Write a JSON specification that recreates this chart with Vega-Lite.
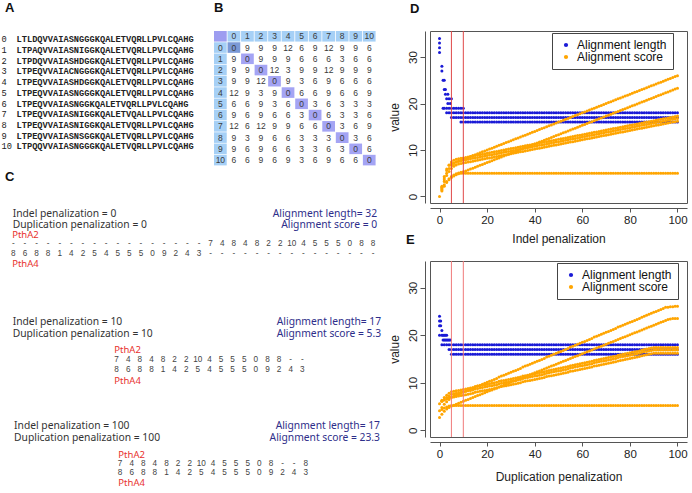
{
"$schema":"https://vega.github.io/schema/vega-lite/v6.json",
"padding":{"top":2,"left":0,"right":0,"bottom":0},
"background":"white",
"config":{"font":"Liberation Sans","view":{"stroke":null},"title":{"anchor":"start","fontSize":13,"fontWeight":"bold","font":"Liberation Sans","color":"#111"},"axis":{"grid":false,"labelFont":"Liberation Sans","titleFont":"Liberation Sans","labelFontSize":11.5,"titleFontSize":12,"titleFontWeight":"normal","labelColor":"#222","titleColor":"#222","domainColor":"#555","tickColor":"#555"}},
"datasets":{
"seqA":[{"i":0,"p":"idx","t":"0"},{"i":0,"p":"seq","t":"LTLDQVVAIASNGGGKQALETVQRLLPVLCQAHG"},{"i":1,"p":"idx","t":"1"},{"i":1,"p":"seq","t":"LTPAQVVAIASNIGGKQALETVQRLLPVLCQAHG"},{"i":2,"p":"idx","t":"2"},{"i":2,"p":"seq","t":"LTPDQVVAIASHDGGKQALETVQRLLPVLCQAHG"},{"i":3,"p":"idx","t":"3"},{"i":3,"p":"seq","t":"LTPEQVVAIACNGGGKQALETVQRLLPVLCQAHG"},{"i":4,"p":"idx","t":"4"},{"i":4,"p":"seq","t":"LTPEQVVAIASHDGGKQALETVQRLLPVLCQAHG"},{"i":5,"p":"idx","t":"5"},{"i":5,"p":"seq","t":"LTPEQVVAIASNGGGKQALETVQRLLPVLCQAHG"},{"i":6,"p":"idx","t":"6"},{"i":6,"p":"seq","t":"LTPEQVVAIASNGGKQALETVQRLLPVLCQAHG"},{"i":7,"p":"idx","t":"7"},{"i":7,"p":"seq","t":"LTPEQVVAIASNIGGKQALETVQALLPVLCQAHG"},{"i":8,"p":"idx","t":"8"},{"i":8,"p":"seq","t":"LTPEQVVAIASNIGGKQALETVQRLLPVLCQAHG"},{"i":9,"p":"idx","t":"9"},{"i":9,"p":"seq","t":"LTPEQVVAIASNSGGKQALETVQRLLPVLCQAHG"},{"i":10,"p":"idx","t":"10"},{"i":10,"p":"seq","t":"LTPQQVVAIASNGGGKQALETVQRLLPVLCQAHG"}],
"matB":[
{"r":-1,"c":-1,"k":"x","t":""},{"r":-1,"c":0,"k":"h","t":"0"},{"r":-1,"c":1,"k":"h","t":"1"},{"r":-1,"c":2,"k":"h","t":"2"},{"r":-1,"c":3,"k":"h","t":"3"},{"r":-1,"c":4,"k":"h","t":"4"},{"r":-1,"c":5,"k":"h","t":"5"},{"r":-1,"c":6,"k":"h","t":"6"},{"r":-1,"c":7,"k":"h","t":"7"},{"r":-1,"c":8,"k":"h","t":"8"},{"r":-1,"c":9,"k":"h","t":"9"},{"r":-1,"c":10,"k":"h","t":"10"},
{"r":0,"c":-1,"k":"h","t":"0"},{"r":0,"c":0,"k":"s","t":"0"},{"r":0,"c":1,"k":"v","t":"9"},{"r":0,"c":2,"k":"v","t":"9"},{"r":0,"c":3,"k":"v","t":"9"},{"r":0,"c":4,"k":"v","t":"12"},{"r":0,"c":5,"k":"v","t":"6"},{"r":0,"c":6,"k":"v","t":"9"},{"r":0,"c":7,"k":"v","t":"12"},{"r":0,"c":8,"k":"v","t":"9"},{"r":0,"c":9,"k":"v","t":"9"},{"r":0,"c":10,"k":"v","t":"6"},
{"r":1,"c":-1,"k":"h","t":"1"},{"r":1,"c":0,"k":"v","t":"9"},{"r":1,"c":1,"k":"d","t":"0"},{"r":1,"c":2,"k":"v","t":"9"},{"r":1,"c":3,"k":"v","t":"9"},{"r":1,"c":4,"k":"v","t":"9"},{"r":1,"c":5,"k":"v","t":"6"},{"r":1,"c":6,"k":"v","t":"6"},{"r":1,"c":7,"k":"v","t":"6"},{"r":1,"c":8,"k":"v","t":"3"},{"r":1,"c":9,"k":"v","t":"6"},{"r":1,"c":10,"k":"v","t":"6"},
{"r":2,"c":-1,"k":"h","t":"2"},{"r":2,"c":0,"k":"v","t":"9"},{"r":2,"c":1,"k":"v","t":"9"},{"r":2,"c":2,"k":"d","t":"0"},{"r":2,"c":3,"k":"v","t":"12"},{"r":2,"c":4,"k":"v","t":"3"},{"r":2,"c":5,"k":"v","t":"9"},{"r":2,"c":6,"k":"v","t":"9"},{"r":2,"c":7,"k":"v","t":"12"},{"r":2,"c":8,"k":"v","t":"9"},{"r":2,"c":9,"k":"v","t":"9"},{"r":2,"c":10,"k":"v","t":"9"},
{"r":3,"c":-1,"k":"h","t":"3"},{"r":3,"c":0,"k":"v","t":"9"},{"r":3,"c":1,"k":"v","t":"9"},{"r":3,"c":2,"k":"v","t":"12"},{"r":3,"c":3,"k":"d","t":"0"},{"r":3,"c":4,"k":"v","t":"9"},{"r":3,"c":5,"k":"v","t":"3"},{"r":3,"c":6,"k":"v","t":"6"},{"r":3,"c":7,"k":"v","t":"9"},{"r":3,"c":8,"k":"v","t":"6"},{"r":3,"c":9,"k":"v","t":"6"},{"r":3,"c":10,"k":"v","t":"6"},
{"r":4,"c":-1,"k":"h","t":"4"},{"r":4,"c":0,"k":"v","t":"12"},{"r":4,"c":1,"k":"v","t":"9"},{"r":4,"c":2,"k":"v","t":"3"},{"r":4,"c":3,"k":"v","t":"9"},{"r":4,"c":4,"k":"d","t":"0"},{"r":4,"c":5,"k":"v","t":"6"},{"r":4,"c":6,"k":"v","t":"6"},{"r":4,"c":7,"k":"v","t":"9"},{"r":4,"c":8,"k":"v","t":"6"},{"r":4,"c":9,"k":"v","t":"6"},{"r":4,"c":10,"k":"v","t":"9"},
{"r":5,"c":-1,"k":"h","t":"5"},{"r":5,"c":0,"k":"v","t":"6"},{"r":5,"c":1,"k":"v","t":"6"},{"r":5,"c":2,"k":"v","t":"9"},{"r":5,"c":3,"k":"v","t":"3"},{"r":5,"c":4,"k":"v","t":"6"},{"r":5,"c":5,"k":"d","t":"0"},{"r":5,"c":6,"k":"v","t":"3"},{"r":5,"c":7,"k":"v","t":"6"},{"r":5,"c":8,"k":"v","t":"3"},{"r":5,"c":9,"k":"v","t":"3"},{"r":5,"c":10,"k":"v","t":"3"},
{"r":6,"c":-1,"k":"h","t":"6"},{"r":6,"c":0,"k":"v","t":"9"},{"r":6,"c":1,"k":"v","t":"6"},{"r":6,"c":2,"k":"v","t":"9"},{"r":6,"c":3,"k":"v","t":"6"},{"r":6,"c":4,"k":"v","t":"6"},{"r":6,"c":5,"k":"v","t":"3"},{"r":6,"c":6,"k":"d","t":"0"},{"r":6,"c":7,"k":"v","t":"6"},{"r":6,"c":8,"k":"v","t":"3"},{"r":6,"c":9,"k":"v","t":"3"},{"r":6,"c":10,"k":"v","t":"6"},
{"r":7,"c":-1,"k":"h","t":"7"},{"r":7,"c":0,"k":"v","t":"12"},{"r":7,"c":1,"k":"v","t":"6"},{"r":7,"c":2,"k":"v","t":"12"},{"r":7,"c":3,"k":"v","t":"9"},{"r":7,"c":4,"k":"v","t":"9"},{"r":7,"c":5,"k":"v","t":"6"},{"r":7,"c":6,"k":"v","t":"6"},{"r":7,"c":7,"k":"d","t":"0"},{"r":7,"c":8,"k":"v","t":"3"},{"r":7,"c":9,"k":"v","t":"6"},{"r":7,"c":10,"k":"v","t":"9"},
{"r":8,"c":-1,"k":"h","t":"8"},{"r":8,"c":0,"k":"v","t":"9"},{"r":8,"c":1,"k":"v","t":"3"},{"r":8,"c":2,"k":"v","t":"9"},{"r":8,"c":3,"k":"v","t":"6"},{"r":8,"c":4,"k":"v","t":"6"},{"r":8,"c":5,"k":"v","t":"3"},{"r":8,"c":6,"k":"v","t":"3"},{"r":8,"c":7,"k":"v","t":"3"},{"r":8,"c":8,"k":"d","t":"0"},{"r":8,"c":9,"k":"v","t":"3"},{"r":8,"c":10,"k":"v","t":"6"},
{"r":9,"c":-1,"k":"h","t":"9"},{"r":9,"c":0,"k":"v","t":"9"},{"r":9,"c":1,"k":"v","t":"6"},{"r":9,"c":2,"k":"v","t":"9"},{"r":9,"c":3,"k":"v","t":"6"},{"r":9,"c":4,"k":"v","t":"6"},{"r":9,"c":5,"k":"v","t":"3"},{"r":9,"c":6,"k":"v","t":"3"},{"r":9,"c":7,"k":"v","t":"6"},{"r":9,"c":8,"k":"v","t":"3"},{"r":9,"c":9,"k":"d","t":"0"},{"r":9,"c":10,"k":"v","t":"6"},
{"r":10,"c":-1,"k":"h","t":"10"},{"r":10,"c":0,"k":"v","t":"6"},{"r":10,"c":1,"k":"v","t":"6"},{"r":10,"c":2,"k":"v","t":"9"},{"r":10,"c":3,"k":"v","t":"6"},{"r":10,"c":4,"k":"v","t":"9"},{"r":10,"c":5,"k":"v","t":"3"},{"r":10,"c":6,"k":"v","t":"6"},{"r":10,"c":7,"k":"v","t":"9"},{"r":10,"c":8,"k":"v","t":"6"},{"r":10,"c":9,"k":"v","t":"6"},{"r":10,"c":10,"k":"d","t":"0"}],
"txtC":[
{"k":"hl","c":-0.06,"ln":1.8,"t":"Indel penalization = 0"},{"k":"hl","c":-0.06,"ln":2.9,"t":"Duplication penalization = 0"},{"k":"hr","c":31.35,"ln":1.8,"t":"Alignment length= 32"},{"k":"hr","c":31.35,"ln":2.9,"t":"Alignment score = 0"},{"k":"nm","c":-0.1,"ln":3.85,"t":"PthA2"},{"k":"nm","c":-0.1,"ln":6.75,"t":"PthA4"},
{"k":"tk","c":0,"ln":4.8,"t":"-"},{"k":"tk","c":1,"ln":4.8,"t":"-"},{"k":"tk","c":2,"ln":4.8,"t":"-"},{"k":"tk","c":3,"ln":4.8,"t":"-"},{"k":"tk","c":4,"ln":4.8,"t":"-"},{"k":"tk","c":5,"ln":4.8,"t":"-"},{"k":"tk","c":6,"ln":4.8,"t":"-"},{"k":"tk","c":7,"ln":4.8,"t":"-"},{"k":"tk","c":8,"ln":4.8,"t":"-"},{"k":"tk","c":9,"ln":4.8,"t":"-"},{"k":"tk","c":10,"ln":4.8,"t":"-"},{"k":"tk","c":11,"ln":4.8,"t":"-"},{"k":"tk","c":12,"ln":4.8,"t":"-"},{"k":"tk","c":13,"ln":4.8,"t":"-"},{"k":"tk","c":14,"ln":4.8,"t":"-"},{"k":"tk","c":15,"ln":4.8,"t":"-"},{"k":"tk","c":16,"ln":4.8,"t":"-"},
{"k":"tk","c":17,"ln":4.8,"t":"7"},{"k":"tk","c":18,"ln":4.8,"t":"4"},{"k":"tk","c":19,"ln":4.8,"t":"8"},{"k":"tk","c":20,"ln":4.8,"t":"4"},{"k":"tk","c":21,"ln":4.8,"t":"8"},{"k":"tk","c":22,"ln":4.8,"t":"2"},{"k":"tk","c":23,"ln":4.8,"t":"2"},{"k":"tk","c":24,"ln":4.8,"t":"10"},{"k":"tk","c":25,"ln":4.8,"t":"4"},{"k":"tk","c":26,"ln":4.8,"t":"5"},{"k":"tk","c":27,"ln":4.8,"t":"5"},{"k":"tk","c":28,"ln":4.8,"t":"5"},{"k":"tk","c":29,"ln":4.8,"t":"0"},{"k":"tk","c":30,"ln":4.8,"t":"8"},{"k":"tk","c":31,"ln":4.8,"t":"8"},
{"k":"tk","c":0,"ln":5.8,"t":"8"},{"k":"tk","c":1,"ln":5.8,"t":"6"},{"k":"tk","c":2,"ln":5.8,"t":"8"},{"k":"tk","c":3,"ln":5.8,"t":"8"},{"k":"tk","c":4,"ln":5.8,"t":"1"},{"k":"tk","c":5,"ln":5.8,"t":"4"},{"k":"tk","c":6,"ln":5.8,"t":"2"},{"k":"tk","c":7,"ln":5.8,"t":"5"},{"k":"tk","c":8,"ln":5.8,"t":"4"},{"k":"tk","c":9,"ln":5.8,"t":"5"},{"k":"tk","c":10,"ln":5.8,"t":"5"},{"k":"tk","c":11,"ln":5.8,"t":"5"},{"k":"tk","c":12,"ln":5.8,"t":"0"},{"k":"tk","c":13,"ln":5.8,"t":"9"},{"k":"tk","c":14,"ln":5.8,"t":"2"},{"k":"tk","c":15,"ln":5.8,"t":"4"},{"k":"tk","c":16,"ln":5.8,"t":"3"},
{"k":"tk","c":17,"ln":5.8,"t":"-"},{"k":"tk","c":18,"ln":5.8,"t":"-"},{"k":"tk","c":19,"ln":5.8,"t":"-"},{"k":"tk","c":20,"ln":5.8,"t":"-"},{"k":"tk","c":21,"ln":5.8,"t":"-"},{"k":"tk","c":22,"ln":5.8,"t":"-"},{"k":"tk","c":23,"ln":5.8,"t":"-"},{"k":"tk","c":24,"ln":5.8,"t":"-"},{"k":"tk","c":25,"ln":5.8,"t":"-"},{"k":"tk","c":26,"ln":5.8,"t":"-"},{"k":"tk","c":27,"ln":5.8,"t":"-"},{"k":"tk","c":28,"ln":5.8,"t":"-"},{"k":"tk","c":29,"ln":5.8,"t":"-"},{"k":"tk","c":30,"ln":5.8,"t":"-"},{"k":"tk","c":31,"ln":5.8,"t":"-"},
{"k":"hl","c":-0.06,"ln":12.6,"t":"Indel penalization = 10"},{"k":"hl","c":-0.06,"ln":13.8,"t":"Duplication penalization = 10"},{"k":"hr","c":31.7,"ln":12.6,"t":"Alignment length= 17"},{"k":"hr","c":31.7,"ln":13.8,"t":"Alignment score = 5.3"},{"k":"nm","c":8.7,"ln":15.4,"t":"PthA2"},{"k":"nm","c":8.7,"ln":18.5,"t":"PthA4"},
{"k":"tk","c":8.9,"ln":16.4,"t":"7"},{"k":"tk","c":9.9,"ln":16.4,"t":"4"},{"k":"tk","c":10.9,"ln":16.4,"t":"8"},{"k":"tk","c":11.9,"ln":16.4,"t":"4"},{"k":"tk","c":12.9,"ln":16.4,"t":"8"},{"k":"tk","c":13.9,"ln":16.4,"t":"2"},{"k":"tk","c":14.9,"ln":16.4,"t":"2"},{"k":"tk","c":15.9,"ln":16.4,"t":"10"},{"k":"tk","c":16.9,"ln":16.4,"t":"4"},{"k":"tk","c":17.9,"ln":16.4,"t":"5"},{"k":"tk","c":18.9,"ln":16.4,"t":"5"},{"k":"tk","c":19.9,"ln":16.4,"t":"5"},{"k":"tk","c":20.9,"ln":16.4,"t":"0"},{"k":"tk","c":21.9,"ln":16.4,"t":"8"},{"k":"tk","c":22.9,"ln":16.4,"t":"8"},{"k":"tk","c":23.9,"ln":16.4,"t":"-"},{"k":"tk","c":24.9,"ln":16.4,"t":"-"},
{"k":"tk","c":8.9,"ln":17.4,"t":"8"},{"k":"tk","c":9.9,"ln":17.4,"t":"6"},{"k":"tk","c":10.9,"ln":17.4,"t":"8"},{"k":"tk","c":11.9,"ln":17.4,"t":"8"},{"k":"tk","c":12.9,"ln":17.4,"t":"1"},{"k":"tk","c":13.9,"ln":17.4,"t":"4"},{"k":"tk","c":14.9,"ln":17.4,"t":"2"},{"k":"tk","c":15.9,"ln":17.4,"t":"5"},{"k":"tk","c":16.9,"ln":17.4,"t":"4"},{"k":"tk","c":17.9,"ln":17.4,"t":"5"},{"k":"tk","c":18.9,"ln":17.4,"t":"5"},{"k":"tk","c":19.9,"ln":17.4,"t":"5"},{"k":"tk","c":20.9,"ln":17.4,"t":"0"},{"k":"tk","c":21.9,"ln":17.4,"t":"9"},{"k":"tk","c":22.9,"ln":17.4,"t":"2"},{"k":"tk","c":23.9,"ln":17.4,"t":"4"},{"k":"tk","c":24.9,"ln":17.4,"t":"3"},
{"k":"hl","c":0.06,"ln":23.0,"t":"Indel penalization = 100"},{"k":"hl","c":0.06,"ln":24.2,"t":"Duplication penalization = 100"},{"k":"hr","c":31.6,"ln":23.0,"t":"Alignment length= 17"},{"k":"hr","c":31.6,"ln":24.2,"t":"Alignment score = 23.3"},{"k":"nm","c":9.05,"ln":25.85,"t":"PthA2"},{"k":"nm","c":9.05,"ln":28.65,"t":"PthA4"},
{"k":"tk","c":9.2,"ln":26.8,"t":"7"},{"k":"tk","c":10.2,"ln":26.8,"t":"4"},{"k":"tk","c":11.2,"ln":26.8,"t":"8"},{"k":"tk","c":12.2,"ln":26.8,"t":"4"},{"k":"tk","c":13.2,"ln":26.8,"t":"8"},{"k":"tk","c":14.2,"ln":26.8,"t":"2"},{"k":"tk","c":15.2,"ln":26.8,"t":"2"},{"k":"tk","c":16.2,"ln":26.8,"t":"10"},{"k":"tk","c":17.2,"ln":26.8,"t":"4"},{"k":"tk","c":18.2,"ln":26.8,"t":"5"},{"k":"tk","c":19.2,"ln":26.8,"t":"5"},{"k":"tk","c":20.2,"ln":26.8,"t":"5"},{"k":"tk","c":21.2,"ln":26.8,"t":"0"},{"k":"tk","c":22.2,"ln":26.8,"t":"8"},{"k":"tk","c":23.2,"ln":26.8,"t":"-"},{"k":"tk","c":24.2,"ln":26.8,"t":"-"},{"k":"tk","c":25.2,"ln":26.8,"t":"8"},
{"k":"tk","c":9.2,"ln":27.7,"t":"8"},{"k":"tk","c":10.2,"ln":27.7,"t":"6"},{"k":"tk","c":11.2,"ln":27.7,"t":"8"},{"k":"tk","c":12.2,"ln":27.7,"t":"8"},{"k":"tk","c":13.2,"ln":27.7,"t":"1"},{"k":"tk","c":14.2,"ln":27.7,"t":"4"},{"k":"tk","c":15.2,"ln":27.7,"t":"2"},{"k":"tk","c":16.2,"ln":27.7,"t":"5"},{"k":"tk","c":17.2,"ln":27.7,"t":"4"},{"k":"tk","c":18.2,"ln":27.7,"t":"5"},{"k":"tk","c":19.2,"ln":27.7,"t":"5"},{"k":"tk","c":20.2,"ln":27.7,"t":"5"},{"k":"tk","c":21.2,"ln":27.7,"t":"0"},{"k":"tk","c":22.2,"ln":27.7,"t":"9"},{"k":"tk","c":23.2,"ln":27.7,"t":"2"},{"k":"tk","c":24.2,"ln":27.7,"t":"4"},{"k":"tk","c":25.2,"ln":27.7,"t":"3"}],
"vl":[{"x":5},{"x":10}],
"dl":[{"x":0,"v":34},{"x":0,"v":33},{"x":0,"v":32},{"x":0,"v":31},{"x":1,"v":28},{"x":1,"v":27},{"x":1.5,"v":25},{"x":2,"v":25},{"x":2,"v":23},{"x":2.5,"v":23},{"x":2.5,"v":22},{"x":3.5,"v":22},{"x":3,"v":21},{"x":4,"v":21},{"x":5,"v":21},{"x":3.5,"v":20},{"x":4.5,"v":20},
{"x":1.5,"v":19},{"x":2,"v":19},{"x":3,"v":19},{"x":4,"v":19},{"x":5,"v":19},{"x":6,"v":19},{"x":7,"v":19},{"x":8,"v":19},{"x":9,"v":19},{"x":10,"v":19},
{"x":3,"v":18},{"x":4,"v":18},{"x":5,"v":18},{"x":6,"v":18},{"x":7,"v":18},{"x":8,"v":18},{"x":9,"v":18},{"x":10,"v":18},{"x":11,"v":18},{"x":12,"v":18},{"x":13,"v":18},{"x":14,"v":18},{"x":15,"v":18},{"x":16,"v":18},{"x":17,"v":18},{"x":18,"v":18},{"x":19,"v":18},{"x":20,"v":18},{"x":21,"v":18},{"x":22,"v":18},{"x":23,"v":18},{"x":24,"v":18},{"x":25,"v":18},{"x":26,"v":18},{"x":27,"v":18},{"x":28,"v":18},{"x":29,"v":18},{"x":30,"v":18},{"x":31,"v":18},{"x":32,"v":18},{"x":33,"v":18},{"x":34,"v":18},{"x":35,"v":18},{"x":36,"v":18},{"x":37,"v":18},{"x":38,"v":18},{"x":39,"v":18},{"x":40,"v":18},{"x":41,"v":18},{"x":42,"v":18},{"x":43,"v":18},{"x":44,"v":18},{"x":45,"v":18},{"x":46,"v":18},{"x":47,"v":18},{"x":48,"v":18},{"x":49,"v":18},{"x":50,"v":18},{"x":51,"v":18},{"x":52,"v":18},{"x":53,"v":18},{"x":54,"v":18},{"x":55,"v":18},{"x":56,"v":18},{"x":57,"v":18},{"x":58,"v":18},{"x":59,"v":18},{"x":60,"v":18},{"x":61,"v":18},{"x":62,"v":18},{"x":63,"v":18},{"x":64,"v":18},{"x":65,"v":18},{"x":66,"v":18},{"x":67,"v":18},{"x":68,"v":18},{"x":69,"v":18},{"x":70,"v":18},{"x":71,"v":18},{"x":72,"v":18},{"x":73,"v":18},{"x":74,"v":18},{"x":75,"v":18},{"x":76,"v":18},{"x":77,"v":18},{"x":78,"v":18},{"x":79,"v":18},{"x":80,"v":18},{"x":81,"v":18},{"x":82,"v":18},{"x":83,"v":18},{"x":84,"v":18},{"x":85,"v":18},{"x":86,"v":18},{"x":87,"v":18},{"x":88,"v":18},{"x":89,"v":18},{"x":90,"v":18},{"x":91,"v":18},{"x":92,"v":18},{"x":93,"v":18},{"x":94,"v":18},{"x":95,"v":18},{"x":96,"v":18},{"x":97,"v":18},{"x":98,"v":18},{"x":99,"v":18},{"x":100,"v":18},
{"x":5,"v":17},{"x":6,"v":17},{"x":7,"v":17},{"x":8,"v":17},{"x":9,"v":17},{"x":10,"v":17},{"x":11,"v":17},{"x":12,"v":17},{"x":13,"v":17},{"x":14,"v":17},{"x":15,"v":17},{"x":16,"v":17},{"x":17,"v":17},{"x":18,"v":17},{"x":19,"v":17},{"x":20,"v":17},{"x":21,"v":17},{"x":22,"v":17},{"x":23,"v":17},{"x":24,"v":17},{"x":25,"v":17},{"x":26,"v":17},{"x":27,"v":17},{"x":28,"v":17},{"x":29,"v":17},{"x":30,"v":17},{"x":31,"v":17},{"x":32,"v":17},{"x":33,"v":17},{"x":34,"v":17},{"x":35,"v":17},{"x":36,"v":17},{"x":37,"v":17},{"x":38,"v":17},{"x":39,"v":17},{"x":40,"v":17},{"x":41,"v":17},{"x":42,"v":17},{"x":43,"v":17},{"x":44,"v":17},{"x":45,"v":17},{"x":46,"v":17},{"x":47,"v":17},{"x":48,"v":17},{"x":49,"v":17},{"x":50,"v":17},{"x":51,"v":17},{"x":52,"v":17},{"x":53,"v":17},{"x":54,"v":17},{"x":55,"v":17},{"x":56,"v":17},{"x":57,"v":17},{"x":58,"v":17},{"x":59,"v":17},{"x":60,"v":17},{"x":61,"v":17},{"x":62,"v":17},{"x":63,"v":17},{"x":64,"v":17},{"x":65,"v":17},{"x":66,"v":17},{"x":67,"v":17},{"x":68,"v":17},{"x":69,"v":17},{"x":70,"v":17},{"x":71,"v":17},{"x":72,"v":17},{"x":73,"v":17},{"x":74,"v":17},{"x":75,"v":17},{"x":76,"v":17},{"x":77,"v":17},{"x":78,"v":17},{"x":79,"v":17},{"x":80,"v":17},{"x":81,"v":17},{"x":82,"v":17},{"x":83,"v":17},{"x":84,"v":17},{"x":85,"v":17},{"x":86,"v":17},{"x":87,"v":17},{"x":88,"v":17},{"x":89,"v":17},{"x":90,"v":17},{"x":91,"v":17},{"x":92,"v":17},{"x":93,"v":17},{"x":94,"v":17},{"x":95,"v":17},{"x":96,"v":17},{"x":97,"v":17},{"x":98,"v":17},{"x":99,"v":17},{"x":100,"v":17},
{"x":9,"v":16},{"x":10,"v":16},{"x":11,"v":16},{"x":12,"v":16},{"x":13,"v":16},{"x":14,"v":16},{"x":15,"v":16},{"x":16,"v":16},{"x":17,"v":16},{"x":18,"v":16},{"x":19,"v":16},{"x":20,"v":16},{"x":21,"v":16},{"x":22,"v":16},{"x":23,"v":16},{"x":24,"v":16},{"x":25,"v":16},{"x":26,"v":16},{"x":27,"v":16},{"x":28,"v":16},{"x":29,"v":16},{"x":30,"v":16},{"x":31,"v":16},{"x":32,"v":16},{"x":33,"v":16},{"x":34,"v":16},{"x":35,"v":16},{"x":36,"v":16},{"x":37,"v":16},{"x":38,"v":16},{"x":39,"v":16},{"x":40,"v":16},{"x":41,"v":16},{"x":42,"v":16},{"x":43,"v":16},{"x":44,"v":16},{"x":45,"v":16},{"x":46,"v":16},{"x":47,"v":16},{"x":48,"v":16},{"x":49,"v":16},{"x":50,"v":16},{"x":51,"v":16},{"x":52,"v":16},{"x":53,"v":16},{"x":54,"v":16},{"x":55,"v":16},{"x":56,"v":16},{"x":57,"v":16},{"x":58,"v":16},{"x":59,"v":16},{"x":60,"v":16},{"x":61,"v":16},{"x":62,"v":16},{"x":63,"v":16},{"x":64,"v":16},{"x":65,"v":16},{"x":66,"v":16},{"x":67,"v":16},{"x":68,"v":16},{"x":69,"v":16},{"x":70,"v":16},{"x":71,"v":16},{"x":72,"v":16},{"x":73,"v":16},{"x":74,"v":16},{"x":75,"v":16},{"x":76,"v":16},{"x":77,"v":16},{"x":78,"v":16},{"x":79,"v":16},{"x":80,"v":16},{"x":81,"v":16},{"x":82,"v":16},{"x":83,"v":16},{"x":84,"v":16},{"x":85,"v":16},{"x":86,"v":16},{"x":87,"v":16},{"x":88,"v":16},{"x":89,"v":16},{"x":90,"v":16},{"x":91,"v":16},{"x":92,"v":16},{"x":93,"v":16},{"x":94,"v":16},{"x":95,"v":16},{"x":96,"v":16},{"x":97,"v":16},{"x":98,"v":16},{"x":99,"v":16},{"x":100,"v":16}],
"ds":[{"x":0,"v":0},
{"x":1,"v":2.2},{"x":2,"v":4.3},{"x":3,"v":5.9},{"x":4,"v":6.8},{"x":5,"v":7},{"x":6,"v":7.2},{"x":7,"v":7.4},{"x":8,"v":7.6},{"x":9,"v":7.8},{"x":10,"v":8},{"x":11,"v":8.2},{"x":12,"v":8.4},{"x":13,"v":8.6},{"x":14,"v":8.8},{"x":15,"v":9},{"x":16,"v":9.2},{"x":17,"v":9.4},{"x":18,"v":9.6},{"x":19,"v":9.8},{"x":20,"v":10},{"x":21,"v":10.2},{"x":22,"v":10.4},{"x":23,"v":10.6},{"x":24,"v":10.8},{"x":25,"v":11},{"x":26,"v":11.2},{"x":27,"v":11.4},{"x":28,"v":11.6},{"x":29,"v":11.8},{"x":30,"v":12},{"x":31,"v":12.2},{"x":32,"v":12.4},{"x":33,"v":12.6},{"x":34,"v":12.8},{"x":35,"v":13},{"x":36,"v":13.2},{"x":37,"v":13.4},{"x":38,"v":13.6},{"x":39,"v":13.8},{"x":40,"v":14},{"x":41,"v":14.2},{"x":42,"v":14.4},{"x":43,"v":14.6},{"x":44,"v":14.8},{"x":45,"v":15},{"x":46,"v":15.2},{"x":47,"v":15.4},{"x":48,"v":15.6},{"x":49,"v":15.8},{"x":50,"v":16},{"x":51,"v":16.2},{"x":52,"v":16.4},{"x":53,"v":16.6},{"x":54,"v":16.8},{"x":55,"v":17},{"x":56,"v":17.2},{"x":57,"v":17.4},{"x":58,"v":17.6},{"x":59,"v":17.8},{"x":60,"v":18},{"x":61,"v":18.2},{"x":62,"v":18.4},{"x":63,"v":18.6},{"x":64,"v":18.8},{"x":65,"v":19},{"x":66,"v":19.2},{"x":67,"v":19.4},{"x":68,"v":19.6},{"x":69,"v":19.8},{"x":70,"v":20},{"x":71,"v":20.2},{"x":72,"v":20.4},{"x":73,"v":20.6},{"x":74,"v":20.8},{"x":75,"v":21},{"x":76,"v":21.2},{"x":77,"v":21.4},{"x":78,"v":21.6},{"x":79,"v":21.8},{"x":80,"v":22},{"x":81,"v":22.2},{"x":82,"v":22.4},{"x":83,"v":22.6},{"x":84,"v":22.8},{"x":85,"v":23},{"x":86,"v":23.2},{"x":87,"v":23.4},{"x":88,"v":23.6},{"x":89,"v":23.8},{"x":90,"v":24},{"x":91,"v":24.2},{"x":92,"v":24.4},{"x":93,"v":24.6},{"x":94,"v":24.8},{"x":95,"v":25},{"x":96,"v":25.2},{"x":97,"v":25.4},{"x":98,"v":25.6},{"x":99,"v":25.8},{"x":100,"v":26},
{"x":1,"v":1.4},{"x":2,"v":2.5},{"x":3,"v":3.2},{"x":4,"v":3.8},{"x":5,"v":4.3},{"x":6,"v":4.6},{"x":7,"v":4.9},{"x":8,"v":5.05},{"x":9,"v":5.2},{"x":10,"v":5.3},{"x":11,"v":5.5},{"x":12,"v":5.7},{"x":13,"v":5.9},{"x":14,"v":6.1},{"x":15,"v":6.3},{"x":16,"v":6.5},{"x":17,"v":6.7},{"x":18,"v":6.9},{"x":19,"v":7.1},{"x":20,"v":7.3},{"x":21,"v":7.5},{"x":22,"v":7.7},{"x":23,"v":7.9},{"x":24,"v":8.1},{"x":25,"v":8.3},{"x":26,"v":8.5},{"x":27,"v":8.7},{"x":28,"v":8.9},{"x":29,"v":9.1},{"x":30,"v":9.3},{"x":31,"v":9.5},{"x":32,"v":9.7},{"x":33,"v":9.9},{"x":34,"v":10.1},{"x":35,"v":10.3},{"x":36,"v":10.5},{"x":37,"v":10.7},{"x":38,"v":10.9},{"x":39,"v":11.1},{"x":40,"v":11.3},{"x":41,"v":11.5},{"x":42,"v":11.7},{"x":43,"v":11.9},{"x":44,"v":12.1},{"x":45,"v":12.3},{"x":46,"v":12.5},{"x":47,"v":12.7},{"x":48,"v":12.9},{"x":49,"v":13.1},{"x":50,"v":13.3},{"x":51,"v":13.5},{"x":52,"v":13.7},{"x":53,"v":13.9},{"x":54,"v":14.1},{"x":55,"v":14.3},{"x":56,"v":14.5},{"x":57,"v":14.7},{"x":58,"v":14.9},{"x":59,"v":15.1},{"x":60,"v":15.3},{"x":61,"v":15.5},{"x":62,"v":15.7},{"x":63,"v":15.9},{"x":64,"v":16.1},{"x":65,"v":16.3},{"x":66,"v":16.5},{"x":67,"v":16.7},{"x":68,"v":16.9},{"x":69,"v":17.1},{"x":70,"v":17.3},{"x":71,"v":17.5},{"x":72,"v":17.7},{"x":73,"v":17.9},{"x":74,"v":18.1},{"x":75,"v":18.3},{"x":76,"v":18.5},{"x":77,"v":18.7},{"x":78,"v":18.9},{"x":79,"v":19.1},{"x":80,"v":19.3},{"x":81,"v":19.5},{"x":82,"v":19.7},{"x":83,"v":19.9},{"x":84,"v":20.1},{"x":85,"v":20.3},{"x":86,"v":20.5},{"x":87,"v":20.7},{"x":88,"v":20.9},{"x":89,"v":21.1},{"x":90,"v":21.3},{"x":91,"v":21.5},{"x":92,"v":21.7},{"x":93,"v":21.9},{"x":94,"v":22.1},{"x":95,"v":22.3},{"x":96,"v":22.5},{"x":97,"v":22.7},{"x":98,"v":22.9},{"x":99,"v":23.1},{"x":100,"v":23.3},
{"x":1,"v":2},{"x":2,"v":4},{"x":3,"v":5.6},{"x":4,"v":6.7},{"x":5,"v":7.4},{"x":6,"v":7.8},{"x":7,"v":8},{"x":8,"v":8.1},{"x":9,"v":8.2},{"x":10,"v":8.3},{"x":11,"v":8.4},{"x":12,"v":8.5},{"x":13,"v":8.6},{"x":14,"v":8.7},{"x":15,"v":8.8},{"x":16,"v":8.9},{"x":17,"v":9},{"x":18,"v":9.1},{"x":19,"v":9.2},{"x":20,"v":9.3},{"x":21,"v":9.4},{"x":22,"v":9.5},{"x":23,"v":9.6},{"x":24,"v":9.7},{"x":25,"v":9.8},{"x":26,"v":9.9},{"x":27,"v":10},{"x":28,"v":10.1},{"x":29,"v":10.2},{"x":30,"v":10.3},{"x":31,"v":10.4},{"x":32,"v":10.5},{"x":33,"v":10.6},{"x":34,"v":10.7},{"x":35,"v":10.8},{"x":36,"v":10.9},{"x":37,"v":11},{"x":38,"v":11.1},{"x":39,"v":11.2},{"x":40,"v":11.3},{"x":41,"v":11.4},{"x":42,"v":11.5},{"x":43,"v":11.6},{"x":44,"v":11.7},{"x":45,"v":11.8},{"x":46,"v":11.9},{"x":47,"v":12},{"x":48,"v":12.1},{"x":49,"v":12.2},{"x":50,"v":12.3},{"x":51,"v":12.4},{"x":52,"v":12.5},{"x":53,"v":12.6},{"x":54,"v":12.7},{"x":55,"v":12.8},{"x":56,"v":12.9},{"x":57,"v":13},{"x":58,"v":13.1},{"x":59,"v":13.2},{"x":60,"v":13.3},{"x":61,"v":13.4},{"x":62,"v":13.5},{"x":63,"v":13.6},{"x":64,"v":13.7},{"x":65,"v":13.8},{"x":66,"v":13.9},{"x":67,"v":14},{"x":68,"v":14.1},{"x":69,"v":14.2},{"x":70,"v":14.3},{"x":71,"v":14.4},{"x":72,"v":14.5},{"x":73,"v":14.6},{"x":74,"v":14.7},{"x":75,"v":14.8},{"x":76,"v":14.9},{"x":77,"v":15},{"x":78,"v":15.1},{"x":79,"v":15.2},{"x":80,"v":15.3},{"x":81,"v":15.4},{"x":82,"v":15.5},{"x":83,"v":15.6},{"x":84,"v":15.7},{"x":85,"v":15.8},{"x":86,"v":15.9},{"x":87,"v":16},{"x":88,"v":16.1},{"x":89,"v":16.2},{"x":90,"v":16.3},{"x":91,"v":16.4},{"x":92,"v":16.5},{"x":93,"v":16.6},{"x":94,"v":16.7},{"x":95,"v":16.8},{"x":96,"v":16.9},{"x":97,"v":17},{"x":98,"v":17.1},{"x":99,"v":17.2},{"x":100,"v":17.3},
{"x":1,"v":1.8},{"x":2,"v":3.6},{"x":3,"v":5},{"x":4,"v":6},{"x":5,"v":6.7},{"x":6,"v":7.1},{"x":7,"v":7.4},{"x":8,"v":7.6},{"x":9,"v":7.7},{"x":10,"v":7.8},{"x":11,"v":7.9},{"x":12,"v":8},{"x":13,"v":8.1},{"x":14,"v":8.2},{"x":15,"v":8.3},{"x":16,"v":8.4},{"x":17,"v":8.5},{"x":18,"v":8.6},{"x":19,"v":8.7},{"x":20,"v":8.8},{"x":21,"v":8.9},{"x":22,"v":9},{"x":23,"v":9.1},{"x":24,"v":9.2},{"x":25,"v":9.3},{"x":26,"v":9.4},{"x":27,"v":9.5},{"x":28,"v":9.6},{"x":29,"v":9.7},{"x":30,"v":9.8},{"x":31,"v":9.9},{"x":32,"v":10},{"x":33,"v":10.1},{"x":34,"v":10.2},{"x":35,"v":10.3},{"x":36,"v":10.4},{"x":37,"v":10.5},{"x":38,"v":10.6},{"x":39,"v":10.7},{"x":40,"v":10.8},{"x":41,"v":10.9},{"x":42,"v":11},{"x":43,"v":11.1},{"x":44,"v":11.2},{"x":45,"v":11.3},{"x":46,"v":11.4},{"x":47,"v":11.5},{"x":48,"v":11.6},{"x":49,"v":11.7},{"x":50,"v":11.8},{"x":51,"v":11.9},{"x":52,"v":12},{"x":53,"v":12.1},{"x":54,"v":12.2},{"x":55,"v":12.3},{"x":56,"v":12.4},{"x":57,"v":12.5},{"x":58,"v":12.6},{"x":59,"v":12.7},{"x":60,"v":12.8},{"x":61,"v":12.9},{"x":62,"v":13},{"x":63,"v":13.1},{"x":64,"v":13.2},{"x":65,"v":13.3},{"x":66,"v":13.4},{"x":67,"v":13.5},{"x":68,"v":13.6},{"x":69,"v":13.7},{"x":70,"v":13.8},{"x":71,"v":13.9},{"x":72,"v":14},{"x":73,"v":14.1},{"x":74,"v":14.2},{"x":75,"v":14.3},{"x":76,"v":14.4},{"x":77,"v":14.5},{"x":78,"v":14.6},{"x":79,"v":14.7},{"x":80,"v":14.8},{"x":81,"v":14.9},{"x":82,"v":15},{"x":83,"v":15.1},{"x":84,"v":15.2},{"x":85,"v":15.3},{"x":86,"v":15.4},{"x":87,"v":15.5},{"x":88,"v":15.6},{"x":89,"v":15.7},{"x":90,"v":15.8},{"x":91,"v":15.9},{"x":92,"v":16},{"x":93,"v":16.1},{"x":94,"v":16.2},{"x":95,"v":16.3},{"x":96,"v":16.4},{"x":97,"v":16.5},{"x":98,"v":16.6},{"x":99,"v":16.7},{"x":100,"v":16.8},
{"x":1,"v":1.6},{"x":2,"v":3.2},{"x":3,"v":4.5},{"x":4,"v":5.4},{"x":5,"v":6},{"x":6,"v":6.5},{"x":7,"v":6.8},{"x":8,"v":7},{"x":9,"v":7.1},{"x":10,"v":7.2},{"x":11,"v":7.3},{"x":12,"v":7.4},{"x":13,"v":7.5},{"x":14,"v":7.6},{"x":15,"v":7.7},{"x":16,"v":7.8},{"x":17,"v":7.9},{"x":18,"v":8},{"x":19,"v":8.1},{"x":20,"v":8.2},{"x":21,"v":8.3},{"x":22,"v":8.4},{"x":23,"v":8.5},{"x":24,"v":8.6},{"x":25,"v":8.7},{"x":26,"v":8.8},{"x":27,"v":8.9},{"x":28,"v":9},{"x":29,"v":9.1},{"x":30,"v":9.2},{"x":31,"v":9.3},{"x":32,"v":9.4},{"x":33,"v":9.5},{"x":34,"v":9.6},{"x":35,"v":9.7},{"x":36,"v":9.8},{"x":37,"v":9.9},{"x":38,"v":10},{"x":39,"v":10.1},{"x":40,"v":10.2},{"x":41,"v":10.3},{"x":42,"v":10.4},{"x":43,"v":10.5},{"x":44,"v":10.6},{"x":45,"v":10.7},{"x":46,"v":10.8},{"x":47,"v":10.9},{"x":48,"v":11},{"x":49,"v":11.1},{"x":50,"v":11.2},{"x":51,"v":11.3},{"x":52,"v":11.4},{"x":53,"v":11.5},{"x":54,"v":11.6},{"x":55,"v":11.7},{"x":56,"v":11.8},{"x":57,"v":11.9},{"x":58,"v":12},{"x":59,"v":12.1},{"x":60,"v":12.2},{"x":61,"v":12.3},{"x":62,"v":12.4},{"x":63,"v":12.5},{"x":64,"v":12.6},{"x":65,"v":12.7},{"x":66,"v":12.8},{"x":67,"v":12.9},{"x":68,"v":13},{"x":69,"v":13.1},{"x":70,"v":13.2},{"x":71,"v":13.3},{"x":72,"v":13.4},{"x":73,"v":13.5},{"x":74,"v":13.6},{"x":75,"v":13.7},{"x":76,"v":13.8},{"x":77,"v":13.9},{"x":78,"v":14},{"x":79,"v":14.1},{"x":80,"v":14.2},{"x":81,"v":14.3},{"x":82,"v":14.4},{"x":83,"v":14.5},{"x":84,"v":14.6},{"x":85,"v":14.7},{"x":86,"v":14.8},{"x":87,"v":14.9},{"x":88,"v":15},{"x":89,"v":15.1},{"x":90,"v":15.2},{"x":91,"v":15.3},{"x":92,"v":15.4},{"x":93,"v":15.5},{"x":94,"v":15.6},{"x":95,"v":15.7},{"x":96,"v":15.8},{"x":97,"v":15.9},{"x":98,"v":16},{"x":99,"v":16.1},{"x":100,"v":16.2},
{"x":1,"v":1.2},{"x":2,"v":2.2},{"x":3,"v":3},{"x":4,"v":3.6},{"x":5,"v":4.1},{"x":6,"v":4.4},{"x":7,"v":4.7},{"x":8,"v":4.9},{"x":9,"v":5},{"x":10,"v":5},{"x":11,"v":5},{"x":12,"v":5},{"x":13,"v":5},{"x":14,"v":5},{"x":15,"v":5},{"x":16,"v":5},{"x":17,"v":5},{"x":18,"v":5},{"x":19,"v":5},{"x":20,"v":5},{"x":21,"v":5},{"x":22,"v":5},{"x":23,"v":5},{"x":24,"v":5},{"x":25,"v":5},{"x":26,"v":5},{"x":27,"v":5},{"x":28,"v":5},{"x":29,"v":5},{"x":30,"v":5},{"x":31,"v":5},{"x":32,"v":5},{"x":33,"v":5},{"x":34,"v":5},{"x":35,"v":5},{"x":36,"v":5},{"x":37,"v":5},{"x":38,"v":5},{"x":39,"v":5},{"x":40,"v":5},{"x":41,"v":5},{"x":42,"v":5},{"x":43,"v":5},{"x":44,"v":5},{"x":45,"v":5},{"x":46,"v":5},{"x":47,"v":5},{"x":48,"v":5},{"x":49,"v":5},{"x":50,"v":5},{"x":51,"v":5},{"x":52,"v":5},{"x":53,"v":5},{"x":54,"v":5},{"x":55,"v":5},{"x":56,"v":5},{"x":57,"v":5},{"x":58,"v":5},{"x":59,"v":5},{"x":60,"v":5},{"x":61,"v":5},{"x":62,"v":5},{"x":63,"v":5},{"x":64,"v":5},{"x":65,"v":5},{"x":66,"v":5},{"x":67,"v":5},{"x":68,"v":5},{"x":69,"v":5},{"x":70,"v":5},{"x":71,"v":5},{"x":72,"v":5},{"x":73,"v":5},{"x":74,"v":5},{"x":75,"v":5},{"x":76,"v":5},{"x":77,"v":5},{"x":78,"v":5},{"x":79,"v":5},{"x":80,"v":5},{"x":81,"v":5},{"x":82,"v":5},{"x":83,"v":5},{"x":84,"v":5},{"x":85,"v":5},{"x":86,"v":5},{"x":87,"v":5},{"x":88,"v":5},{"x":89,"v":5},{"x":90,"v":5},{"x":91,"v":5},{"x":92,"v":5},{"x":93,"v":5},{"x":94,"v":5},{"x":95,"v":5},{"x":96,"v":5},{"x":97,"v":5},{"x":98,"v":5},{"x":99,"v":5},{"x":100,"v":5}],
"el":[{"x":0,"v":24},{"x":0,"v":23},{"x":0,"v":22},{"x":0,"v":20},{"x":0.5,"v":23},{"x":0.5,"v":22},{"x":1,"v":21},{"x":1,"v":20},{"x":1.5,"v":20},{"x":2,"v":20},{"x":2.5,"v":20},{"x":3,"v":20},{"x":1.5,"v":19},{"x":2,"v":19},{"x":2.5,"v":19},{"x":3,"v":19},{"x":3.5,"v":19},{"x":4,"v":19},{"x":4.5,"v":19},
{"x":1,"v":18},{"x":2,"v":18},{"x":3,"v":18},{"x":4,"v":18},{"x":5,"v":18},{"x":6,"v":18},{"x":7,"v":18},{"x":8,"v":18},{"x":9,"v":18},{"x":10,"v":18},{"x":11,"v":18},{"x":12,"v":18},{"x":13,"v":18},{"x":14,"v":18},{"x":15,"v":18},{"x":16,"v":18},{"x":17,"v":18},{"x":18,"v":18},{"x":19,"v":18},{"x":20,"v":18},{"x":21,"v":18},{"x":22,"v":18},{"x":23,"v":18},{"x":24,"v":18},{"x":25,"v":18},{"x":26,"v":18},{"x":27,"v":18},{"x":28,"v":18},{"x":29,"v":18},{"x":30,"v":18},{"x":31,"v":18},{"x":32,"v":18},{"x":33,"v":18},{"x":34,"v":18},{"x":35,"v":18},{"x":36,"v":18},{"x":37,"v":18},{"x":38,"v":18},{"x":39,"v":18},{"x":40,"v":18},{"x":41,"v":18},{"x":42,"v":18},{"x":43,"v":18},{"x":44,"v":18},{"x":45,"v":18},{"x":46,"v":18},{"x":47,"v":18},{"x":48,"v":18},{"x":49,"v":18},{"x":50,"v":18},{"x":51,"v":18},{"x":52,"v":18},{"x":53,"v":18},{"x":54,"v":18},{"x":55,"v":18},{"x":56,"v":18},{"x":57,"v":18},{"x":58,"v":18},{"x":59,"v":18},{"x":60,"v":18},{"x":61,"v":18},{"x":62,"v":18},{"x":63,"v":18},{"x":64,"v":18},{"x":65,"v":18},{"x":66,"v":18},{"x":67,"v":18},{"x":68,"v":18},{"x":69,"v":18},{"x":70,"v":18},{"x":71,"v":18},{"x":72,"v":18},{"x":73,"v":18},{"x":74,"v":18},{"x":75,"v":18},{"x":76,"v":18},{"x":77,"v":18},{"x":78,"v":18},{"x":79,"v":18},{"x":80,"v":18},{"x":81,"v":18},{"x":82,"v":18},{"x":83,"v":18},{"x":84,"v":18},{"x":85,"v":18},{"x":86,"v":18},{"x":87,"v":18},{"x":88,"v":18},{"x":89,"v":18},{"x":90,"v":18},{"x":91,"v":18},{"x":92,"v":18},{"x":93,"v":18},{"x":94,"v":18},{"x":95,"v":18},{"x":96,"v":18},{"x":97,"v":18},{"x":98,"v":18},{"x":99,"v":18},{"x":100,"v":18},
{"x":4,"v":17},{"x":5,"v":17},{"x":6,"v":17},{"x":7,"v":17},{"x":8,"v":17},{"x":9,"v":17},{"x":10,"v":17},{"x":11,"v":17},{"x":12,"v":17},{"x":13,"v":17},{"x":14,"v":17},{"x":15,"v":17},{"x":16,"v":17},{"x":17,"v":17},{"x":18,"v":17},{"x":19,"v":17},{"x":20,"v":17},{"x":21,"v":17},{"x":22,"v":17},{"x":23,"v":17},{"x":24,"v":17},{"x":25,"v":17},{"x":26,"v":17},{"x":27,"v":17},{"x":28,"v":17},{"x":29,"v":17},{"x":30,"v":17},{"x":31,"v":17},{"x":32,"v":17},{"x":33,"v":17},{"x":34,"v":17},{"x":35,"v":17},{"x":36,"v":17},{"x":37,"v":17},{"x":38,"v":17},{"x":39,"v":17},{"x":40,"v":17},{"x":41,"v":17},{"x":42,"v":17},{"x":43,"v":17},{"x":44,"v":17},{"x":45,"v":17},{"x":46,"v":17},{"x":47,"v":17},{"x":48,"v":17},{"x":49,"v":17},{"x":50,"v":17},{"x":51,"v":17},{"x":52,"v":17},{"x":53,"v":17},{"x":54,"v":17},{"x":55,"v":17},{"x":56,"v":17},{"x":57,"v":17},{"x":58,"v":17},{"x":59,"v":17},{"x":60,"v":17},{"x":61,"v":17},{"x":62,"v":17},{"x":63,"v":17},{"x":64,"v":17},{"x":65,"v":17},{"x":66,"v":17},{"x":67,"v":17},{"x":68,"v":17},{"x":69,"v":17},{"x":70,"v":17},{"x":71,"v":17},{"x":72,"v":17},{"x":73,"v":17},{"x":74,"v":17},{"x":75,"v":17},{"x":76,"v":17},{"x":77,"v":17},{"x":78,"v":17},{"x":79,"v":17},{"x":80,"v":17},{"x":81,"v":17},{"x":82,"v":17},{"x":83,"v":17},{"x":84,"v":17},{"x":85,"v":17},{"x":86,"v":17},{"x":87,"v":17},{"x":88,"v":17},{"x":89,"v":17},{"x":90,"v":17},{"x":91,"v":17},{"x":92,"v":17},{"x":93,"v":17},{"x":94,"v":17},{"x":95,"v":17},{"x":96,"v":17},{"x":97,"v":17},{"x":98,"v":17},{"x":99,"v":17},{"x":100,"v":17},
{"x":5,"v":16},{"x":6,"v":16},{"x":7,"v":16},{"x":8,"v":16},{"x":9,"v":16},{"x":10,"v":16},{"x":11,"v":16},{"x":12,"v":16},{"x":13,"v":16},{"x":14,"v":16},{"x":15,"v":16},{"x":16,"v":16},{"x":17,"v":16},{"x":18,"v":16},{"x":19,"v":16},{"x":20,"v":16},{"x":21,"v":16},{"x":22,"v":16},{"x":23,"v":16},{"x":24,"v":16},{"x":25,"v":16},{"x":26,"v":16},{"x":27,"v":16},{"x":28,"v":16},{"x":29,"v":16},{"x":30,"v":16},{"x":31,"v":16},{"x":32,"v":16},{"x":33,"v":16},{"x":34,"v":16},{"x":35,"v":16},{"x":36,"v":16},{"x":37,"v":16},{"x":38,"v":16},{"x":39,"v":16},{"x":40,"v":16},{"x":41,"v":16},{"x":42,"v":16},{"x":43,"v":16},{"x":44,"v":16},{"x":45,"v":16},{"x":46,"v":16},{"x":47,"v":16},{"x":48,"v":16},{"x":49,"v":16},{"x":50,"v":16},{"x":51,"v":16},{"x":52,"v":16},{"x":53,"v":16},{"x":54,"v":16},{"x":55,"v":16},{"x":56,"v":16},{"x":57,"v":16},{"x":58,"v":16},{"x":59,"v":16},{"x":60,"v":16},{"x":61,"v":16},{"x":62,"v":16},{"x":63,"v":16},{"x":64,"v":16},{"x":65,"v":16},{"x":66,"v":16},{"x":67,"v":16},{"x":68,"v":16},{"x":69,"v":16},{"x":70,"v":16},{"x":71,"v":16},{"x":72,"v":16},{"x":73,"v":16},{"x":74,"v":16},{"x":75,"v":16},{"x":76,"v":16},{"x":77,"v":16},{"x":78,"v":16},{"x":79,"v":16},{"x":80,"v":16},{"x":81,"v":16},{"x":82,"v":16},{"x":83,"v":16},{"x":84,"v":16},{"x":85,"v":16},{"x":86,"v":16},{"x":87,"v":16},{"x":88,"v":16},{"x":89,"v":16},{"x":90,"v":16},{"x":91,"v":16},{"x":92,"v":16},{"x":93,"v":16},{"x":94,"v":16},{"x":95,"v":16},{"x":96,"v":16},{"x":97,"v":16},{"x":98,"v":16},{"x":99,"v":16},{"x":100,"v":16}],
"es":[{"x":0,"v":5.6},{"x":0,"v":4.1},{"x":0,"v":2.7},
{"x":1,"v":6.1},{"x":2,"v":6.4},{"x":3,"v":6.6},{"x":4,"v":6.8},{"x":5,"v":7},{"x":6,"v":7.2},{"x":7,"v":7.4},{"x":8,"v":7.6},{"x":9,"v":7.8},{"x":10,"v":8},{"x":11,"v":8.2},{"x":12,"v":8.4},{"x":13,"v":8.6},{"x":14,"v":8.8},{"x":15,"v":9.1},{"x":16,"v":9.3},{"x":17,"v":9.5},{"x":18,"v":9.7},{"x":19,"v":9.9},{"x":20,"v":10.1},{"x":21,"v":10.3},{"x":22,"v":10.5},{"x":23,"v":10.7},{"x":24,"v":10.9},{"x":25,"v":11.2},{"x":26,"v":11.4},{"x":27,"v":11.6},{"x":28,"v":11.8},{"x":29,"v":12},{"x":30,"v":12.2},{"x":31,"v":12.4},{"x":32,"v":12.6},{"x":33,"v":12.8},{"x":34,"v":13},{"x":35,"v":13.3},{"x":36,"v":13.5},{"x":37,"v":13.7},{"x":38,"v":13.9},{"x":39,"v":14.1},{"x":40,"v":14.3},{"x":41,"v":14.5},{"x":42,"v":14.7},{"x":43,"v":14.9},{"x":44,"v":15.1},{"x":45,"v":15.4},{"x":46,"v":15.6},{"x":47,"v":15.8},{"x":48,"v":16},{"x":49,"v":16.2},{"x":50,"v":16.4},{"x":51,"v":16.6},{"x":52,"v":16.8},{"x":53,"v":17},{"x":54,"v":17.2},{"x":55,"v":17.5},{"x":56,"v":17.7},{"x":57,"v":17.9},{"x":58,"v":18.1},{"x":59,"v":18.3},{"x":60,"v":18.5},{"x":61,"v":18.7},{"x":62,"v":18.9},{"x":63,"v":19.1},{"x":64,"v":19.3},{"x":65,"v":19.6},{"x":66,"v":19.8},{"x":67,"v":20},{"x":68,"v":20.2},{"x":69,"v":20.4},{"x":70,"v":20.6},{"x":71,"v":20.8},{"x":72,"v":21},{"x":73,"v":21.2},{"x":74,"v":21.4},{"x":75,"v":21.7},{"x":76,"v":21.9},{"x":77,"v":22.1},{"x":78,"v":22.3},{"x":79,"v":22.5},{"x":80,"v":22.7},{"x":81,"v":22.9},{"x":82,"v":23.1},{"x":83,"v":23.3},{"x":84,"v":23.5},{"x":85,"v":23.8},{"x":86,"v":24},{"x":87,"v":24.2},{"x":88,"v":24.4},{"x":89,"v":24.6},{"x":90,"v":24.8},{"x":91,"v":25},{"x":92,"v":25.2},{"x":93,"v":25.4},{"x":94,"v":25.6},{"x":95,"v":25.9},{"x":96,"v":25.9},{"x":97,"v":26},{"x":98,"v":26},{"x":99,"v":26.1},{"x":100,"v":26.1},
{"x":1,"v":3.4},{"x":2,"v":4},{"x":3,"v":4.5},{"x":4,"v":4.8},{"x":5,"v":5.1},{"x":6,"v":5.3},{"x":7,"v":5.5},{"x":8,"v":5.7},{"x":9,"v":5.9},{"x":10,"v":6.1},{"x":11,"v":6.3},{"x":12,"v":6.5},{"x":13,"v":6.7},{"x":14,"v":6.9},{"x":15,"v":7.1},{"x":16,"v":7.3},{"x":17,"v":7.5},{"x":18,"v":7.7},{"x":19,"v":7.9},{"x":20,"v":8.1},{"x":21,"v":8.3},{"x":22,"v":8.5},{"x":23,"v":8.7},{"x":24,"v":8.9},{"x":25,"v":9.1},{"x":26,"v":9.3},{"x":27,"v":9.5},{"x":28,"v":9.7},{"x":29,"v":9.9},{"x":30,"v":10.1},{"x":31,"v":10.3},{"x":32,"v":10.5},{"x":33,"v":10.7},{"x":34,"v":10.9},{"x":35,"v":11.1},{"x":36,"v":11.3},{"x":37,"v":11.5},{"x":38,"v":11.7},{"x":39,"v":11.9},{"x":40,"v":12.1},{"x":41,"v":12.3},{"x":42,"v":12.5},{"x":43,"v":12.7},{"x":44,"v":12.9},{"x":45,"v":13.1},{"x":46,"v":13.3},{"x":47,"v":13.5},{"x":48,"v":13.7},{"x":49,"v":13.9},{"x":50,"v":14.1},{"x":51,"v":14.3},{"x":52,"v":14.5},{"x":53,"v":14.7},{"x":54,"v":14.9},{"x":55,"v":15.1},{"x":56,"v":15.3},{"x":57,"v":15.5},{"x":58,"v":15.7},{"x":59,"v":15.9},{"x":60,"v":16.1},{"x":61,"v":16.3},{"x":62,"v":16.5},{"x":63,"v":16.7},{"x":64,"v":16.9},{"x":65,"v":17.1},{"x":66,"v":17.3},{"x":67,"v":17.5},{"x":68,"v":17.7},{"x":69,"v":17.9},{"x":70,"v":18.1},{"x":71,"v":18.3},{"x":72,"v":18.5},{"x":73,"v":18.7},{"x":74,"v":18.9},{"x":75,"v":19.1},{"x":76,"v":19.3},{"x":77,"v":19.5},{"x":78,"v":19.7},{"x":79,"v":19.9},{"x":80,"v":20.1},{"x":81,"v":20.3},{"x":82,"v":20.5},{"x":83,"v":20.7},{"x":84,"v":20.9},{"x":85,"v":21.1},{"x":86,"v":21.3},{"x":87,"v":21.5},{"x":88,"v":21.7},{"x":89,"v":21.9},{"x":90,"v":22.1},{"x":91,"v":22.3},{"x":92,"v":22.5},{"x":93,"v":22.7},{"x":94,"v":22.9},{"x":95,"v":23.1},{"x":96,"v":23.3},{"x":97,"v":23.4},{"x":98,"v":23.5},{"x":99,"v":23.5},{"x":100,"v":23.5},
{"x":1,"v":6.3},{"x":2,"v":6.9},{"x":3,"v":7.4},{"x":4,"v":7.8},{"x":5,"v":8.1},{"x":6,"v":8.2},{"x":7,"v":8.3},{"x":8,"v":8.4},{"x":9,"v":8.5},{"x":10,"v":8.6},{"x":11,"v":8.7},{"x":12,"v":8.8},{"x":13,"v":8.9},{"x":14,"v":9},{"x":15,"v":9.2},{"x":16,"v":9.3},{"x":17,"v":9.4},{"x":18,"v":9.5},{"x":19,"v":9.6},{"x":20,"v":9.7},{"x":21,"v":9.8},{"x":22,"v":9.9},{"x":23,"v":10},{"x":24,"v":10.1},{"x":25,"v":10.3},{"x":26,"v":10.4},{"x":27,"v":10.5},{"x":28,"v":10.6},{"x":29,"v":10.7},{"x":30,"v":10.8},{"x":31,"v":10.9},{"x":32,"v":11},{"x":33,"v":11.1},{"x":34,"v":11.2},{"x":35,"v":11.4},{"x":36,"v":11.5},{"x":37,"v":11.6},{"x":38,"v":11.7},{"x":39,"v":11.8},{"x":40,"v":11.9},{"x":41,"v":12},{"x":42,"v":12.1},{"x":43,"v":12.2},{"x":44,"v":12.3},{"x":45,"v":12.5},{"x":46,"v":12.6},{"x":47,"v":12.7},{"x":48,"v":12.8},{"x":49,"v":12.9},{"x":50,"v":13},{"x":51,"v":13.1},{"x":52,"v":13.2},{"x":53,"v":13.3},{"x":54,"v":13.4},{"x":55,"v":13.6},{"x":56,"v":13.7},{"x":57,"v":13.8},{"x":58,"v":13.9},{"x":59,"v":14},{"x":60,"v":14.1},{"x":61,"v":14.2},{"x":62,"v":14.3},{"x":63,"v":14.4},{"x":64,"v":14.5},{"x":65,"v":14.7},{"x":66,"v":14.8},{"x":67,"v":14.9},{"x":68,"v":15},{"x":69,"v":15.1},{"x":70,"v":15.2},{"x":71,"v":15.3},{"x":72,"v":15.4},{"x":73,"v":15.5},{"x":74,"v":15.6},{"x":75,"v":15.8},{"x":76,"v":15.9},{"x":77,"v":16},{"x":78,"v":16.1},{"x":79,"v":16.2},{"x":80,"v":16.3},{"x":81,"v":16.4},{"x":82,"v":16.5},{"x":83,"v":16.6},{"x":84,"v":16.7},{"x":85,"v":16.9},{"x":86,"v":17},{"x":87,"v":17.1},{"x":88,"v":17.2},{"x":89,"v":17.3},{"x":90,"v":17.4},{"x":91,"v":17.4},{"x":92,"v":17.4},{"x":93,"v":17.4},{"x":94,"v":17.4},{"x":95,"v":17.4},{"x":96,"v":17.4},{"x":97,"v":17.4},{"x":98,"v":17.4},{"x":99,"v":17.4},{"x":100,"v":17.4},
{"x":1,"v":6.1},{"x":2,"v":6.5},{"x":3,"v":6.9},{"x":4,"v":7.2},{"x":5,"v":7.6},{"x":6,"v":7.7},{"x":7,"v":7.8},{"x":8,"v":7.9},{"x":9,"v":8},{"x":10,"v":8.1},{"x":11,"v":8.2},{"x":12,"v":8.3},{"x":13,"v":8.4},{"x":14,"v":8.5},{"x":15,"v":8.7},{"x":16,"v":8.8},{"x":17,"v":8.9},{"x":18,"v":9},{"x":19,"v":9.1},{"x":20,"v":9.2},{"x":21,"v":9.3},{"x":22,"v":9.4},{"x":23,"v":9.5},{"x":24,"v":9.6},{"x":25,"v":9.8},{"x":26,"v":9.9},{"x":27,"v":10},{"x":28,"v":10.1},{"x":29,"v":10.2},{"x":30,"v":10.3},{"x":31,"v":10.4},{"x":32,"v":10.5},{"x":33,"v":10.6},{"x":34,"v":10.7},{"x":35,"v":10.9},{"x":36,"v":11},{"x":37,"v":11.1},{"x":38,"v":11.2},{"x":39,"v":11.3},{"x":40,"v":11.4},{"x":41,"v":11.5},{"x":42,"v":11.6},{"x":43,"v":11.7},{"x":44,"v":11.8},{"x":45,"v":12},{"x":46,"v":12.1},{"x":47,"v":12.2},{"x":48,"v":12.3},{"x":49,"v":12.4},{"x":50,"v":12.5},{"x":51,"v":12.6},{"x":52,"v":12.7},{"x":53,"v":12.8},{"x":54,"v":12.9},{"x":55,"v":13.1},{"x":56,"v":13.2},{"x":57,"v":13.3},{"x":58,"v":13.4},{"x":59,"v":13.5},{"x":60,"v":13.6},{"x":61,"v":13.7},{"x":62,"v":13.8},{"x":63,"v":13.9},{"x":64,"v":14},{"x":65,"v":14.2},{"x":66,"v":14.3},{"x":67,"v":14.4},{"x":68,"v":14.5},{"x":69,"v":14.6},{"x":70,"v":14.7},{"x":71,"v":14.8},{"x":72,"v":14.9},{"x":73,"v":15},{"x":74,"v":15.1},{"x":75,"v":15.3},{"x":76,"v":15.4},{"x":77,"v":15.5},{"x":78,"v":15.6},{"x":79,"v":15.7},{"x":80,"v":15.8},{"x":81,"v":15.9},{"x":82,"v":16},{"x":83,"v":16.1},{"x":84,"v":16.2},{"x":85,"v":16.4},{"x":86,"v":16.5},{"x":87,"v":16.6},{"x":88,"v":16.7},{"x":89,"v":16.8},{"x":90,"v":16.9},{"x":91,"v":16.9},{"x":92,"v":16.9},{"x":93,"v":16.9},{"x":94,"v":16.9},{"x":95,"v":16.9},{"x":96,"v":16.9},{"x":97,"v":16.9},{"x":98,"v":16.9},{"x":99,"v":16.9},{"x":100,"v":16.9},
{"x":1,"v":4.8},{"x":2,"v":5.5},{"x":3,"v":6},{"x":4,"v":6.5},{"x":5,"v":6.9},{"x":6,"v":7},{"x":7,"v":7.1},{"x":8,"v":7.2},{"x":9,"v":7.3},{"x":10,"v":7.4},{"x":11,"v":7.5},{"x":12,"v":7.6},{"x":13,"v":7.7},{"x":14,"v":7.8},{"x":15,"v":8},{"x":16,"v":8.1},{"x":17,"v":8.2},{"x":18,"v":8.3},{"x":19,"v":8.4},{"x":20,"v":8.5},{"x":21,"v":8.6},{"x":22,"v":8.7},{"x":23,"v":8.8},{"x":24,"v":8.9},{"x":25,"v":9.1},{"x":26,"v":9.2},{"x":27,"v":9.3},{"x":28,"v":9.4},{"x":29,"v":9.5},{"x":30,"v":9.6},{"x":31,"v":9.7},{"x":32,"v":9.8},{"x":33,"v":9.9},{"x":34,"v":10},{"x":35,"v":10.2},{"x":36,"v":10.3},{"x":37,"v":10.4},{"x":38,"v":10.5},{"x":39,"v":10.6},{"x":40,"v":10.7},{"x":41,"v":10.8},{"x":42,"v":10.9},{"x":43,"v":11},{"x":44,"v":11.1},{"x":45,"v":11.3},{"x":46,"v":11.4},{"x":47,"v":11.5},{"x":48,"v":11.6},{"x":49,"v":11.7},{"x":50,"v":11.8},{"x":51,"v":11.9},{"x":52,"v":12},{"x":53,"v":12.1},{"x":54,"v":12.2},{"x":55,"v":12.4},{"x":56,"v":12.5},{"x":57,"v":12.6},{"x":58,"v":12.7},{"x":59,"v":12.8},{"x":60,"v":12.9},{"x":61,"v":13},{"x":62,"v":13.1},{"x":63,"v":13.2},{"x":64,"v":13.3},{"x":65,"v":13.5},{"x":66,"v":13.6},{"x":67,"v":13.7},{"x":68,"v":13.8},{"x":69,"v":13.9},{"x":70,"v":14},{"x":71,"v":14.1},{"x":72,"v":14.2},{"x":73,"v":14.3},{"x":74,"v":14.4},{"x":75,"v":14.6},{"x":76,"v":14.7},{"x":77,"v":14.8},{"x":78,"v":14.9},{"x":79,"v":15},{"x":80,"v":15.1},{"x":81,"v":15.2},{"x":82,"v":15.3},{"x":83,"v":15.4},{"x":84,"v":15.5},{"x":85,"v":15.7},{"x":86,"v":15.8},{"x":87,"v":15.9},{"x":88,"v":16},{"x":89,"v":16.1},{"x":90,"v":16.2},{"x":91,"v":16.2},{"x":92,"v":16.2},{"x":93,"v":16.2},{"x":94,"v":16.2},{"x":95,"v":16.2},{"x":96,"v":16.2},{"x":97,"v":16.2},{"x":98,"v":16.2},{"x":99,"v":16.2},{"x":100,"v":16.2},
{"x":1,"v":4.4},{"x":2,"v":4.7},{"x":3,"v":4.9},{"x":4,"v":5.1},{"x":5,"v":5.2},{"x":6,"v":5.2},{"x":7,"v":5.2},{"x":8,"v":5.2},{"x":9,"v":5.2},{"x":10,"v":5.2},{"x":11,"v":5.2},{"x":12,"v":5.2},{"x":13,"v":5.2},{"x":14,"v":5.2},{"x":15,"v":5.2},{"x":16,"v":5.2},{"x":17,"v":5.2},{"x":18,"v":5.2},{"x":19,"v":5.2},{"x":20,"v":5.2},{"x":21,"v":5.2},{"x":22,"v":5.2},{"x":23,"v":5.2},{"x":24,"v":5.2},{"x":25,"v":5.2},{"x":26,"v":5.2},{"x":27,"v":5.2},{"x":28,"v":5.2},{"x":29,"v":5.2},{"x":30,"v":5.2},{"x":31,"v":5.2},{"x":32,"v":5.2},{"x":33,"v":5.2},{"x":34,"v":5.2},{"x":35,"v":5.2},{"x":36,"v":5.2},{"x":37,"v":5.2},{"x":38,"v":5.2},{"x":39,"v":5.2},{"x":40,"v":5.2},{"x":41,"v":5.2},{"x":42,"v":5.2},{"x":43,"v":5.2},{"x":44,"v":5.2},{"x":45,"v":5.2},{"x":46,"v":5.2},{"x":47,"v":5.2},{"x":48,"v":5.2},{"x":49,"v":5.2},{"x":50,"v":5.2},{"x":51,"v":5.2},{"x":52,"v":5.2},{"x":53,"v":5.2},{"x":54,"v":5.2},{"x":55,"v":5.2},{"x":56,"v":5.2},{"x":57,"v":5.2},{"x":58,"v":5.2},{"x":59,"v":5.2},{"x":60,"v":5.2},{"x":61,"v":5.2},{"x":62,"v":5.2},{"x":63,"v":5.2},{"x":64,"v":5.2},{"x":65,"v":5.2},{"x":66,"v":5.2},{"x":67,"v":5.2},{"x":68,"v":5.2},{"x":69,"v":5.2},{"x":70,"v":5.2},{"x":71,"v":5.2},{"x":72,"v":5.2},{"x":73,"v":5.2},{"x":74,"v":5.2},{"x":75,"v":5.2},{"x":76,"v":5.2},{"x":77,"v":5.2},{"x":78,"v":5.2},{"x":79,"v":5.2},{"x":80,"v":5.2},{"x":81,"v":5.2},{"x":82,"v":5.2},{"x":83,"v":5.2},{"x":84,"v":5.2},{"x":85,"v":5.2},{"x":86,"v":5.2},{"x":87,"v":5.2},{"x":88,"v":5.2},{"x":89,"v":5.2},{"x":90,"v":5.2},{"x":91,"v":5.2},{"x":92,"v":5.2},{"x":93,"v":5.2},{"x":94,"v":5.2},{"x":95,"v":5.2},{"x":96,"v":5.2},{"x":97,"v":5.2},{"x":98,"v":5.2},{"x":99,"v":5.2},{"x":100,"v":5.2}]
},
"hconcat":[
{"vconcat":[
 {"hconcat":[
  {"title":{"text":"A","dx":5,"offset":15.7},"width":195,"height":134.4,"data":{"name":"seqA"},
   "encoding":{"x":{"field":"p","type":"nominal","scale":{"type":"point","domain":["idx","seq"],"range":[1.5,16.5],"padding":0},"axis":null},"y":{"field":"i","type":"quantitative","scale":{"domain":[0,10],"range":[8.3,115.3],"nice":false,"zero":false},"axis":null},"text":{"field":"t"}},
   "layer":[
    {"transform":[{"filter":"datum.p == 'idx'"}],"mark":{"type":"text","align":"left","baseline":"middle","font":"Liberation Mono","fontSize":8.7,"color":"#222"}},
    {"transform":[{"filter":"datum.p == 'seq'"}],"mark":{"type":"text","align":"left","baseline":"middle","font":"Liberation Mono","fontSize":8.7,"fontWeight":"bold","color":"#222"}}
   ]},
  {"title":{"text":"B","offset":15.7},"width":161.6,"height":134.4,"data":{"name":"matB"},
   "layer":[
    {"mark":{"type":"rect"},"encoding":{"x":{"field":"c","type":"ordinal","scale":{"domain":[-1,0,1,2,3,4,5,6,7,8,9,10],"paddingInner":0.06,"paddingOuter":0},"axis":null},"y":{"field":"r","type":"ordinal","scale":{"domain":[-1,0,1,2,3,4,5,6,7,8,9,10],"paddingInner":0.06,"paddingOuter":0},"axis":null},"color":{"field":"k","type":"nominal","scale":{"domain":["h","x","d","s","v"],"range":["#a6d0f6","#9d9df0","#a4a4f4","#7b99d6","#ffffff"]},"legend":null}}},
    {"mark":{"type":"text","align":"center","baseline":"middle","fontSize":8.5,"color":"#3a3a3a"},"encoding":{"x":{"field":"c","type":"ordinal"},"y":{"field":"r","type":"ordinal"},"text":{"field":"t"}}}
   ]}
 ],"spacing":19},
 {"title":{"text":"C","dx":5,"offset":12},"width":380,"height":298,"data":{"name":"txtC"},
  "encoding":{"x":{"field":"c","type":"quantitative","scale":{"domain":[-1.15,31.6],"nice":false,"zero":false},"axis":null},"y":{"field":"ln","type":"quantitative","scale":{"domain":[0,29.8],"reverse":true,"nice":false,"zero":false},"axis":null},"text":{"field":"t"}},
  "layer":[
   {"transform":[{"filter":"datum.k == 'hl'"}],"mark":{"type":"text","align":"left","baseline":"middle","font":"Noto Sans","fontSize":10.3,"color":"#333333"}},
   {"transform":[{"filter":"datum.k == 'hr'"}],"mark":{"type":"text","align":"right","baseline":"middle","font":"Noto Sans","fontSize":10.3,"color":"#2e2e8a"}},
   {"transform":[{"filter":"datum.k == 'nm'"}],"mark":{"type":"text","align":"left","baseline":"middle","font":"Noto Sans","fontSize":9.5,"color":"#e8322e"}},
   {"transform":[{"filter":"datum.k == 'tk'"}],"mark":{"type":"text","align":"center","baseline":"middle","font":"Liberation Sans","fontSize":8.2,"color":"#444444"}}
  ]}
],"spacing":5},
{"vconcat":[
 {"title":{"text":"D","frame":"group","dx":-20,"offset":15},"width":257,"height":172,"view":{"stroke":"#555555","strokeWidth":1},
  "layer":[
   {"data":{"name":"dl"},"mark":{"type":"circle","size":9,"opacity":1},
    "encoding":{"x":{"field":"x","type":"quantitative","scale":{"domain":[-4,104],"nice":false,"zero":false},"axis":{"title":"Indel penalization","values":[0,20,40,60,80,100],"offset":5,"tickSize":4,"labelPadding":2,"titlePadding":8,"labelFlush":false,"labelOverlap":false}},
     "y":{"field":"v","type":"quantitative","scale":{"domain":[-1.4,35.6],"nice":false,"zero":false},"axis":{"title":"value","values":[0,5,10,15,20,25,30,35],"labelExpr":"(datum.value == 15 || datum.value == 25 || datum.value == 35) ? '' : datum.label","labelAngle":-90,"labelAlign":"center","labelBaseline":"bottom","offset":5,"tickSize":5,"labelPadding":2,"titlePadding":6,"labelOverlap":false,"labelFlush":false}},
     "color":{"datum":"Alignment length","type":"nominal","scale":{"domain":["Alignment length","Alignment score"],"range":["#1a1ad6","#ffa500"]},"legend":{"orient":"none","legendX":122,"legendY":2,"title":null,"symbolType":"circle","symbolSize":18,"labelFontSize":12,"labelFont":"Liberation Sans","labelColor":"#111111","padding":6,"strokeColor":"#444444","fillColor":"#ffffff","rowPadding":0,"labelOffset":5,"symbolOffset":2}}}},
   {"data":{"name":"ds"},"mark":{"type":"circle","size":9,"opacity":1},
    "encoding":{"x":{"field":"x","type":"quantitative"},"y":{"field":"v","type":"quantitative"},"color":{"datum":"Alignment score","type":"nominal"}}},
   {"data":{"name":"vl"},"mark":{"type":"rule","color":"#e04848","strokeWidth":1},"encoding":{"x":{"field":"x","type":"quantitative"}}}
  ]},
 {"title":{"text":"E","frame":"group","dx":-24,"offset":14},"width":257,"height":176,"view":{"stroke":"#555555","strokeWidth":1},
  "layer":[
   {"data":{"name":"el"},"mark":{"type":"circle","size":9,"opacity":1},
    "encoding":{"x":{"field":"x","type":"quantitative","scale":{"domain":[-4,104],"nice":false,"zero":false},"axis":{"title":"Duplication penalization","values":[0,20,40,60,80,100],"offset":5,"tickSize":4,"labelPadding":2,"titlePadding":12,"labelFlush":false,"labelOverlap":false}},
     "y":{"field":"v","type":"quantitative","scale":{"domain":[-1.4,35.6],"nice":false,"zero":false},"axis":{"title":"value","values":[0,5,10,15,20,25,30,35],"labelExpr":"(datum.value == 15 || datum.value == 25 || datum.value == 35) ? '' : datum.label","labelAngle":-90,"labelAlign":"center","labelBaseline":"bottom","offset":5,"tickSize":5,"labelPadding":2,"titlePadding":6,"labelOverlap":false,"labelFlush":false}},
     "color":{"datum":"Alignment length","type":"nominal","scale":{"domain":["Alignment length","Alignment score"],"range":["#1a1ad6","#ffa500"]},"legend":{"orient":"none","legendX":127,"legendY":2,"title":null,"symbolType":"circle","symbolSize":18,"labelFontSize":12,"labelFont":"Liberation Sans","labelColor":"#111111","padding":6,"strokeColor":"#444444","fillColor":"#ffffff","rowPadding":0,"labelOffset":5,"symbolOffset":2}}}},
   {"data":{"name":"es"},"mark":{"type":"circle","size":9,"opacity":1},
    "encoding":{"x":{"field":"x","type":"quantitative"},"y":{"field":"v","type":"quantitative"},"color":{"datum":"Alignment score","type":"nominal"}}},
   {"data":{"name":"vl"},"mark":{"type":"rule","color":"#f07a7a","strokeWidth":1},"encoding":{"x":{"field":"x","type":"quantitative"}}}
  ]}
],"spacing":-12,"resolve":{"scale":{"color":"independent"},"legend":{"color":"independent"}}}
],
"spacing":5
}
